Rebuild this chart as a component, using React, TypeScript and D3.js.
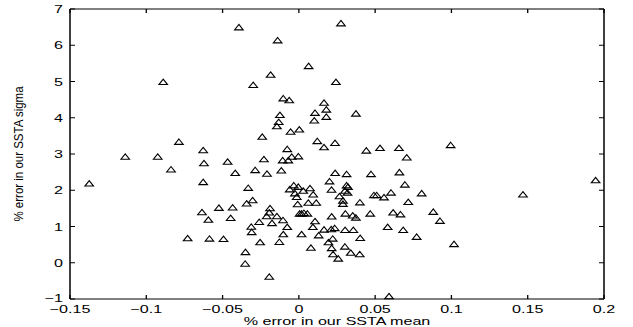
import React from 'react';
import * as d3 from 'd3';

// % error in SSTA mean (x) and % error in SSTA sigma (y)
const meanErr = [
  -0.0393, 0.0276, -0.0139, 0.0064, -0.0185, -0.0299, 0.0243, -0.0889, -0.0102, -0.0063,
  0.0165, 0.0180, 0.0106, 0.0180, 0.0101, 0.0374, -0.0124, -0.0132, -0.0144, -0.0054,
  0.0003, -0.0240, 0.0121, 0.0165, 0.0237, -0.0076, 0.0442, 0.0532, 0.0656, 0.0707,
  -0.0627, -0.0622, -0.0467, -0.0229, -0.0106, -0.0069, -0.0047, -0.0003, 0.0995, -0.1374,
  -0.1138, -0.0925, -0.0838, -0.0786, -0.0729, -0.0627, -0.0417, -0.0286, -0.0209, -0.0115,
  -0.0332, -0.0303, -0.0342, -0.0524, -0.0434, -0.0635, -0.0593, -0.0447, -0.0189, -0.0194,
  -0.0211, -0.0144, -0.0104, -0.0176, -0.0260, -0.0312, -0.0076, -0.0309, -0.0102, -0.0586,
  -0.0494, -0.0254, -0.0128, -0.0350, -0.0352, -0.0194, 0.0591, -0.0033, -0.0060, -0.0026,
  -0.0014, -0.0008, -0.0004, 0.0029, 0.0073, 0.0094, 0.0062, 0.0114, 0.0005, 0.0018,
  0.0033, 0.0056, 0.0106, 0.0092, 0.0165, 0.0212, 0.0235, 0.0018, 0.0130, 0.0222,
  0.0194, 0.0215, 0.0079, 0.0302, 0.0224, 0.0258, 0.0340, 0.0399, 0.0238, 0.0313,
  0.0473, 0.0659, 0.0201, 0.0313, 0.0322, 0.0214, 0.0302, 0.0319, 0.0266, 0.0289,
  0.0289, 0.0400, 0.0492, 0.0510, 0.0558, 0.0604, 0.0695, 0.0717, 0.0215, 0.0305,
  0.0353, 0.0374, 0.0468, 0.0618, 0.0666, 0.0303, 0.0357, 0.0582, 0.0684, 0.0402,
  0.0805, 0.0881, 0.0925, 0.0772, 0.1017, 0.1469, 0.1945,
];
const sigmaErr = [
  6.50, 6.61, 6.14, 5.43, 5.19, 4.91, 4.99, 4.99, 4.54, 4.49,
  4.42, 4.23, 4.14, 4.03, 3.93, 4.12, 4.08, 3.89, 3.77, 3.62,
  3.68, 3.48, 3.36, 3.19, 3.31, 3.14, 3.10, 3.17, 3.17, 2.91,
  3.11, 2.75, 2.79, 2.86, 2.83, 2.83, 2.93, 2.94, 3.25, 2.19,
  2.93, 2.93, 2.58, 3.34, 0.68, 2.23, 2.48, 2.56, 2.46, 2.55,
  2.07, 1.73, 1.64, 1.52, 1.53, 1.40, 1.19, 1.24, 1.51, 1.39,
  1.29, 1.29, 1.18, 1.10, 1.13, 1.00, 0.99, 0.85, 0.79, 0.67,
  0.66, 0.57, 0.58, 0.30, -0.02, -0.38, -0.92, 2.14, 2.03, 1.92,
  1.82, 1.62, 2.10, 1.99, 2.06, 1.89, 1.66, 1.66, 1.36, 1.36,
  1.38, 1.36, 1.15, 0.99, 0.92, 0.93, 0.96, 0.79, 0.76, 0.67,
  0.57, 0.41, 0.42, 0.45, 0.24, 0.12, 0.28, 0.24, 2.48, 2.45,
  2.45, 2.50, 2.25, 2.14, 2.10, 2.02, 1.99, 1.94, 1.84, 1.72,
  1.63, 1.67, 1.87, 1.87, 1.81, 1.94, 2.16, 1.68, 1.28, 1.36,
  1.31, 1.25, 1.36, 1.39, 1.34, 0.91, 0.91, 0.99, 0.91, 0.69,
  1.92, 1.41, 1.16, 0.72, 0.52, 1.89, 2.28,
];

const xTicks = [-0.15, -0.1, -0.05, 0, 0.05, 0.1, 0.15, 0.2];
const xTickLabels = ['\u22120.15', '\u22120.1', '\u22120.05', '0', '0.05', '0.1', '0.15', '0.2'];
const yTicks = [-1, 0, 1, 2, 3, 4, 5, 6, 7];
const yTickLabels = ['\u22121', '0', '1', '2', '3', '4', '5', '6', '7'];
const xTitle = '% error in our SSTA mean';
const yTitle = '% error in our SSTA sigma';

const W = 633;
const H = 327;
const L = 70, R = 604, T = 9, B = 299;
const FONT = '"Liberation Sans", Arial, Helvetica, sans-serif';
const FS = 11.5;
const SX = 1.4;

export default function App() {
  const x = d3.scaleLinear().domain([-0.15, 0.2]).range([L, R]);
  const y = d3.scaleLinear().domain([-1, 7]).range([B, T]);
  const tri = 'M0,-2.7L4.3,2.7L-4.3,2.7Z';

  return (
    <svg width={W} height={H} style={{ position: 'absolute', left: 0, top: 0, background: '#fff' }}>
      <rect x={0} y={0} width={W} height={H} fill="#fff" />
      {xTicks.map((t) => (
        <g key={'xt' + t}>
          <line x1={x(t)} x2={x(t)} y1={B} y2={B - 4} stroke="#000" strokeWidth={1.3} />
          <line x1={x(t)} x2={x(t)} y1={T} y2={T + 4} stroke="#000" strokeWidth={1.3} />
        </g>
      ))}
      {yTicks.map((t) => (
        <g key={'yt' + t}>
          <line x1={L} x2={L + 5} y1={y(t)} y2={y(t)} stroke="#000" strokeWidth={1} />
          <line x1={R} x2={R - 5} y1={y(t)} y2={y(t)} stroke="#000" strokeWidth={1} />
        </g>
      ))}
      <line x1={L} x2={R} y1={T} y2={T} stroke="#000" strokeWidth={1} />
      <line x1={L} x2={R} y1={B} y2={B} stroke="#000" strokeWidth={1} />
      <line x1={L} x2={L} y1={T} y2={B} stroke="#000" strokeWidth={1.5} />
      <line x1={R} x2={R} y1={T} y2={B} stroke="#000" strokeWidth={1.5} />
      {meanErr.map((m, i) => (
        <path
          key={'p' + i}
          d={tri}
          transform={`translate(${x(m)},${y(sigmaErr[i])})`}
          fill="none"
          stroke="#000"
          strokeWidth={1.1}
        />
      ))}
      {xTicks.map((t, i) => (
        <text
          key={'xl' + t}
          transform={`translate(${x(t)},312.5) scale(${SX},1)`}
          textAnchor="middle"
          fontFamily={FONT}
          fontSize={FS}
          fill="#000"
        >
          {xTickLabels[i]}
        </text>
      ))}
      {yTicks.map((t, i) => (
        <text
          key={'yl' + t}
          transform={`translate(63,${y(t) + (i === 0 ? 2.5 : 4)}) scale(${SX},1)`}
          textAnchor="end"
          fontFamily={FONT}
          fontSize={FS}
          fill="#000"
        >
          {yTickLabels[i]}
        </text>
      ))}
      <text
        transform={`translate(${(L + R) / 2},324.5) scale(${SX},1)`}
        textAnchor="middle"
        fontFamily={FONT}
        fontSize={FS}
        fill="#000"
      >
        {xTitle}
      </text>
      <text
        transform={`translate(22.5,${(T + B) / 2}) scale(1.15,1) rotate(-90)`}
        textAnchor="middle"
        fontFamily={FONT}
        fontSize={FS}
        fill="#000"
      >
        {yTitle}
      </text>
    </svg>
  );
}
